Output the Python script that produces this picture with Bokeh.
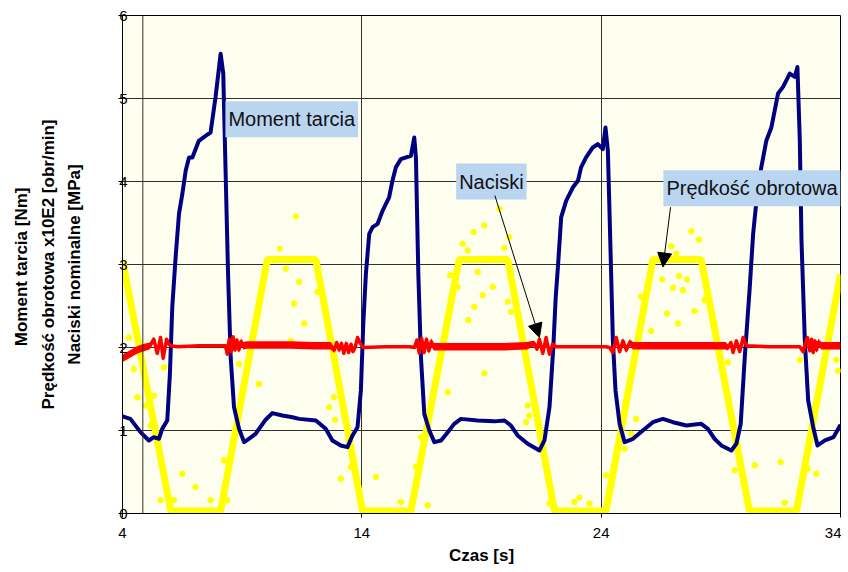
from bokeh.plotting import figure
from bokeh.models import Range1d, FixedTicker, Label, Arrow, NormalHead, Span
from bokeh.embed import file_html
from bokeh.resources import INLINE

# ---------------- data ----------------
x_ticks = [4, 14, 24, 34]
y_ticks = [0, 1, 2, 3, 4, 5, 6]

# Moment tarcia [Nm]
moment_x = [4.0, 4.33, 4.75, 5.1, 5.31, 5.52, 5.66, 5.87, 5.98, 6.08, 6.22, 6.36, 6.5, 6.64, 6.78, 6.92,
            7.19, 7.47, 7.68, 7.89, 8.1, 8.21, 8.31, 8.41, 8.52, 8.66, 8.87, 9.08, 9.28, 9.56, 9.98,
            10.26, 10.68, 11.1, 11.38, 12.08, 12.49, 12.77, 13.12, 13.4, 13.61, 13.82, 13.96, 14.06,
            14.17, 14.31, 14.45, 14.66, 14.87, 15.14, 15.28, 15.42, 15.63, 16.05, 16.19, 16.26, 16.36,
            16.47, 16.61, 16.82, 17.03, 17.31, 17.59, 17.86, 18.14, 18.84, 19.54, 19.96, 20.23, 20.51,
            20.93, 21.42, 21.63, 21.84, 22.0, 22.1, 22.2, 22.33, 22.54, 22.82, 23.03, 23.16, 23.37, 23.65,
            23.86, 24.07, 24.18, 24.28, 24.38, 24.49, 24.6, 24.77, 24.98, 25.33, 25.74, 26.16, 26.58,
            27.0, 27.56, 28.18, 28.46, 28.74, 29.02, 29.44, 29.65, 29.83, 30.0, 30.2, 30.35, 30.49,
            30.69, 30.9, 31.11, 31.39, 31.6, 31.88, 32.09, 32.2, 32.3, 32.37, 32.51, 32.65, 32.86,
            33.04, 33.35, 33.71, 34.0]
moment_y = [1.17, 1.14, 0.98, 0.88, 0.92, 0.9, 1.02, 1.12, 1.68, 2.49, 3.09, 3.61, 3.85, 4.13, 4.29, 4.29,
            4.49, 4.55, 4.59, 5.02, 5.54, 5.3, 4.09, 2.89, 1.88, 1.28, 1.02, 0.86, 0.9, 0.96, 1.13,
            1.21, 1.18, 1.16, 1.14, 1.12, 1.02, 0.88, 0.82, 0.8, 0.94, 1.04, 1.48, 2.28,
            2.89, 3.37, 3.45, 3.49, 3.65, 3.81, 4.01, 4.17, 4.27, 4.31, 4.53, 4.29, 2.89,
            1.88, 1.2, 1.0, 0.86, 0.88, 0.98, 1.08, 1.14, 1.12, 1.11, 1.12, 1.06, 0.94,
            0.84, 0.76, 0.88, 1.28, 2.0, 2.6, 3.0, 3.57, 3.77, 3.93, 4.01, 4.17, 4.29, 4.41,
            4.45, 4.39, 4.65, 4.37, 3.29, 2.08, 1.48, 1.08, 0.86, 0.9, 1.0, 1.1, 1.14,
            1.1, 1.06, 1.08, 1.02, 0.9, 0.82, 0.76, 0.84, 1.08, 1.88, 2.69, 3.37, 3.77,
            4.17, 4.49, 4.65, 5.06, 5.14, 5.3, 5.26, 5.38, 4.49, 3.29, 2.08, 1.36, 1.04,
            0.82, 0.88, 0.92, 1.07]

# Prędkość obrotowa x10E2 [obr/min] - dense band (corners) and scattered points
speed_x = [4.0, 6.02, 8.1, 10.05, 12.08, 14.03, 16.05, 18.07, 20.1, 22.05, 24.2, 26.16, 28.18, 30.2, 32.16, 34.0]
speed_y = [3.05, 0.03, 0.03, 3.06, 3.06, 0.03, 0.03, 3.06, 3.06, 0.03, 0.03, 3.06, 3.06, 0.03, 0.03, 2.88]
speed_pts_x = [4.26, 4.47, 4.62, 4.96, 5.17, 5.31, 5.73, 5.59, 6.15, 6.5, 7.05, 7.68, 8.24, 8.38, 8.87, 9.7,
               10.57, 10.82, 11.03, 11.17, 11.24, 11.38, 11.59, 12.15, 12.63, 12.84, 12.88, 13.12, 13.54,
               14.59, 15.63, 16.26, 16.47, 16.75, 17.59, 17.69, 18.0, 18.21, 18.42, 18.45, 18.67, 18.7,
               18.84, 19.05, 19.12, 19.12, 19.47, 19.75, 19.95, 20.1, 20.16, 20.23, 20.86, 20.93, 21.0,
               21.84, 22.88, 23.09, 23.51, 24.21, 24.98, 25.26, 25.46, 25.67, 26.09, 26.55, 26.75, 26.93,
               27.0, 27.14, 27.21, 27.25, 27.42, 27.59, 27.77, 27.9, 28.09, 28.32, 28.74, 29.3, 29.58,
               30.42, 31.5, 31.67, 32.3, 32.62, 32.99, 33.83, 33.9]
speed_pts_y = [2.12, 1.74, 1.4, 1.3, 1.06, 1.42, 1.76, 0.16, 0.16, 0.48, 0.32, 0.16, 0.64, 0.16, 1.8, 1.56,
               3.19, 2.95, 2.08, 2.53, 3.58, 2.79, 2.29, 2.67, 1.28, 1.4, 1.13, 0.42, 0.56,
               0.44, 0.14, 0.56, 0.92, 0.1, 1.46, 2.87, 2.73, 3.25, 3.17, 2.33, 3.39, 2.49,
               2.91, 2.63, 3.47, 1.69, 2.73, 3.67, 3.2, 2.55, 3.33, 2.43, 1.1, 1.3, 1.18,
               0.12, 0.14, 0.19, 0.12, 0.46, 0.78, 0.96, 1.14, 2.61, 2.2, 2.82, 2.41, 3.22,
               2.72, 3.13, 2.29, 2.86, 2.69, 2.82, 3.4, 2.44, 3.3, 2.57, 2.29, 1.82, 0.52,
               0.58, 0.62, 0.13, 1.85, 0.54, 0.48, 1.85, 1.72]

# Naciski nominalne [MPa]: centre line and half-width of the fast noise band
naciski_x = ([4.0, 4.3, 4.6, 4.9, 5.15, 5.31, 5.45, 5.59, 5.7, 5.84, 5.94, 6.03]
             + [6.3, 7.2, 8.3]
             + [8.38, 8.46, 8.54, 8.62, 8.7, 8.78, 8.86, 8.95, 9.05]
             + [9.2, 10.0, 11.0, 12.0, 12.7]
             + [12.85, 12.95, 13.05, 13.15, 13.25, 13.35, 13.45, 13.55, 13.63, 13.72, 13.82, 13.92, 14.05]
             + [15.0, 16.0]
             + [16.2, 16.3, 16.4, 16.5, 16.6, 16.7, 16.8, 16.9, 17.0]
             + [18.0, 19.0, 20.0, 20.9]
             + [21.2, 21.32, 21.42, 21.56, 21.7, 21.84, 21.98]
             + [22.1, 23.0, 24.2]
             + [24.35, 24.49, 24.63, 24.77, 24.91, 25.05, 25.19, 25.33]
             + [26.0, 27.0, 28.0, 29.2]
             + [29.3, 29.42, 29.51, 29.65, 29.79, 29.93, 30.07]
             + [31.0, 32.3]
             + [32.44, 32.53, 32.62, 32.72, 32.79, 32.86, 32.93, 33.0, 33.07, 33.2]
             + [33.5, 34.0])
naciski_y = ([1.87, 1.92, 1.97, 2.0, 2.02, 2.1, 1.93, 2.12, 1.87, 2.1, 2.04, 2.02]
             + [2.01, 2.02, 2.02]
             + [1.92, 2.1, 1.95, 2.13, 1.97, 2.09, 1.97, 2.07, 2.02]
             + [2.03, 2.03, 2.03, 2.02, 2.02]
             + [1.97, 2.06, 1.97, 2.05, 1.93, 2.05, 1.94, 2.04, 1.95, 2.0, 2.12, 2.06, 2.0]
             + [2.01, 2.01]
             + [2.0, 2.09, 1.93, 2.11, 1.94, 2.1, 1.96, 2.07, 2.01]
             + [2.01, 2.01, 2.01, 2.02]
             + [2.05, 1.98, 2.1, 1.93, 2.12, 1.92, 2.04]
             + [2.01, 2.01, 2.01]
             + [2.0, 1.94, 2.12, 1.95, 2.08, 1.97, 2.06, 2.02]
             + [2.02, 2.02, 2.02, 2.02]
             + [2.0, 2.06, 1.94, 2.08, 1.95, 2.12, 2.02]
             + [2.01, 2.01]
             + [1.95, 2.05, 2.12, 1.96, 2.1, 1.94, 2.08, 1.97, 2.06, 2.02]
             + [2.02, 2.02])
naciski_noise = ([0.045, 0.045, 0.045, 0.045, 0.04, 0.025, 0.025, 0.025, 0.025, 0.02, 0.01, 0.0]
                 + [0.0, 0.0, 0.0]
                 + [0.01, 0.02, 0.025, 0.025, 0.03, 0.03, 0.035, 0.04, 0.045]
                 + [0.045, 0.045, 0.045, 0.045, 0.045]
                 + [0.035, 0.025, 0.025, 0.025, 0.025, 0.02, 0.02, 0.02, 0.01, 0.01, 0.0, 0.0, 0.0]
                 + [0.0, 0.0]
                 + [0.0, 0.01, 0.025, 0.025, 0.025, 0.03, 0.035, 0.04, 0.045]
                 + [0.045, 0.045, 0.045, 0.045]
                 + [0.035, 0.025, 0.025, 0.02, 0.02, 0.01, 0.0]
                 + [0.0, 0.0, 0.0]
                 + [0.0, 0.01, 0.025, 0.025, 0.03, 0.035, 0.04, 0.045]
                 + [0.045, 0.045, 0.045, 0.045]
                 + [0.035, 0.025, 0.025, 0.02, 0.01, 0.01, 0.0]
                 + [0.0, 0.0]
                 + [0.0, 0.01, 0.02, 0.025, 0.025, 0.03, 0.035, 0.04, 0.045, 0.045]
                 + [0.045, 0.045])

# callouts
note_text = ["Moment tarcia", "Naciski", "Prędkość obrotowa"]
note_x = [8.3, 17.94, 26.6]
note_y = [4.75, 4.0, 3.92]
arrow_x0 = [19.56, 26.9]
arrow_y0 = [3.83, 3.69]
arrow_x1 = [21.42, 26.58]
arrow_y1 = [2.12, 2.97]

FONT = "Liberation Sans"

p = figure(width=841, height=570, x_range=Range1d(4, 34), y_range=Range1d(0, 6),
           output_backend="svg", toolbar_location=None,
           min_border_left=122, min_border_top=15, min_border_right=1, min_border_bottom=57)
p.background_fill_color = "#FEFEEF"
p.border_fill_color = "white"
p.outline_line_color = "black"
p.outline_line_width = 1

# axes
p.xaxis.ticker = FixedTicker(ticks=x_ticks)
p.yaxis.ticker = FixedTicker(ticks=y_ticks)
for ax in (p.xaxis[0], p.yaxis[0]):
    ax.major_label_text_font = FONT
    ax.major_label_text_font_size = "15px"
    ax.major_label_text_color = "black"
    ax.axis_line_color = "black"
    ax.major_tick_line_color = "black"
    ax.major_tick_in = 0
    ax.major_tick_out = 4
    ax.minor_tick_line_color = None
    ax.axis_label_text_font = FONT
    ax.axis_label_text_font_style = "bold"
    ax.axis_label_text_font_size = "17px"
    ax.axis_label_text_color = "black"
p.xaxis.major_label_standoff = 10
p.xaxis.axis_label = "Czas [s]"
p.xaxis.axis_label_standoff = 5
p.yaxis.major_label_standoff = -9
p.yaxis.axis_label = "Moment tarcia  [Nm]\nPrędkość obrotowa x10E2 [obr/min]\nNaciski nominalne [MPa]"
p.yaxis.axis_label_text_line_height = 1.4
p.yaxis.axis_label_standoff = 32

p.xgrid.grid_line_color = "#303030"
p.ygrid.grid_line_color = "#303030"
p.xgrid.grid_line_width = 1
p.ygrid.grid_line_width = 1
p.add_layout(Span(location=4.85, dimension="height", line_color="#303030", line_width=1))

# series
p.line(speed_x, speed_y, line_color="#FFFF00", line_width=7)
p.scatter(speed_pts_x, speed_pts_y, size=5.5, fill_color="#FFFF00", line_color="#FFFF00")

p.line(moment_x, moment_y, line_color="#000080", line_width=4, line_join="round")

lo = [y - s for y, s in zip(naciski_y, naciski_noise)]
hi = [y + s for y, s in zip(naciski_y, naciski_noise)]
p.varea(x=naciski_x, y1=lo, y2=hi, fill_color="#FF0000")
p.line(naciski_x, naciski_y, line_color="#FF0000", line_width=3.5, line_join="round")

# callouts
for t, x, y in zip(note_text, note_x, note_y):
    p.add_layout(Label(x=x, y=y, text=t, text_font=FONT, text_font_size="20px",
                       text_color="#111111", text_baseline="middle", text_align="left",
                       background_fill_color="#BAD5F0", padding=(3, 7)))
for x0, y0, x1, y1 in zip(arrow_x0, arrow_y0, arrow_x1, arrow_y1):
    p.add_layout(Arrow(x_start=x0, y_start=y0, x_end=x1, y_end=y1, line_color="black", line_width=1,
                       end=NormalHead(size=14, fill_color="black", line_color="black")))

open("out.html", "w").write(file_html(p, INLINE))
